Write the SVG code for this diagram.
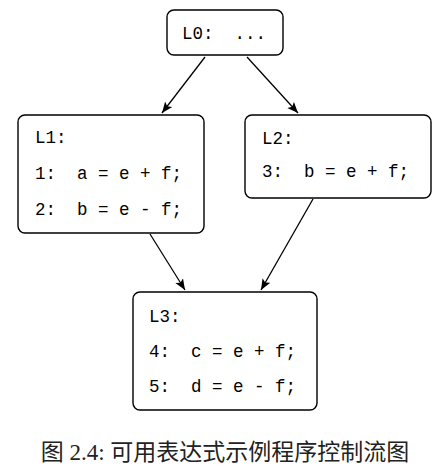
<svg xmlns="http://www.w3.org/2000/svg" width="447" height="471" viewBox="0 0 447 471">
<style>
.box{fill:#fff;stroke:#000;stroke-width:1.4}
.code{font-family:"Liberation Mono","DejaVu Sans Mono",monospace;font-size:17.5px;fill:#000;white-space:pre}
.edge{stroke:#000;stroke-width:1.3;fill:none;marker-end:url(#arr)}
.cap{font-family:"Liberation Serif","Noto Sans CJK SC",serif;font-size:23px;fill:#222}
</style>
<defs>
<marker id="arr" viewBox="0 0 12 10" refX="11" refY="5" markerWidth="12" markerHeight="10" markerUnits="userSpaceOnUse" orient="auto">
<path d="M0,0.5 L11,5 L0,9.5 L2.5,5 Z" fill="#000"/>
</marker>
</defs>
<g id="L0">
<rect class="box" x="167" y="10" width="116" height="45" rx="7"/>
<text class="code" x="182" y="39" xml:space="preserve">L0:  ...</text>
</g>
<g id="L1">
<rect class="box" x="18" y="115" width="186" height="118" rx="7"/>
<text class="code" x="35" y="143" xml:space="preserve">L1:</text>
<text class="code" x="35" y="179" xml:space="preserve">1:  a = e + f;</text>
<text class="code" x="35" y="215" xml:space="preserve">2:  b = e - f;</text>
</g>
<g id="L2">
<rect class="box" x="245" y="115" width="186" height="83" rx="7"/>
<text class="code" x="262" y="144" xml:space="preserve">L2:</text>
<text class="code" x="262" y="177" xml:space="preserve">3:  b = e + f;</text>
</g>
<g id="L3">
<rect class="box" x="133" y="292" width="184" height="118" rx="7"/>
<text class="code" x="149" y="322" xml:space="preserve">L3:</text>
<text class="code" x="149" y="357" xml:space="preserve">4:  c = e + f;</text>
<text class="code" x="149" y="392" xml:space="preserve">5:  d = e - f;</text>
</g>
<g id="edges">
<line class="edge" x1="205" y1="57" x2="162" y2="113"/>
<line class="edge" x1="247" y1="57" x2="298" y2="113"/>
<line class="edge" x1="150" y1="234" x2="185" y2="290"/>
<line class="edge" x1="313" y1="199" x2="261" y2="290"/>
</g>
<text class="cap" x="225" y="460" text-anchor="middle">图 2.4: 可用表达式示例程序控制流图</text>
</svg>
